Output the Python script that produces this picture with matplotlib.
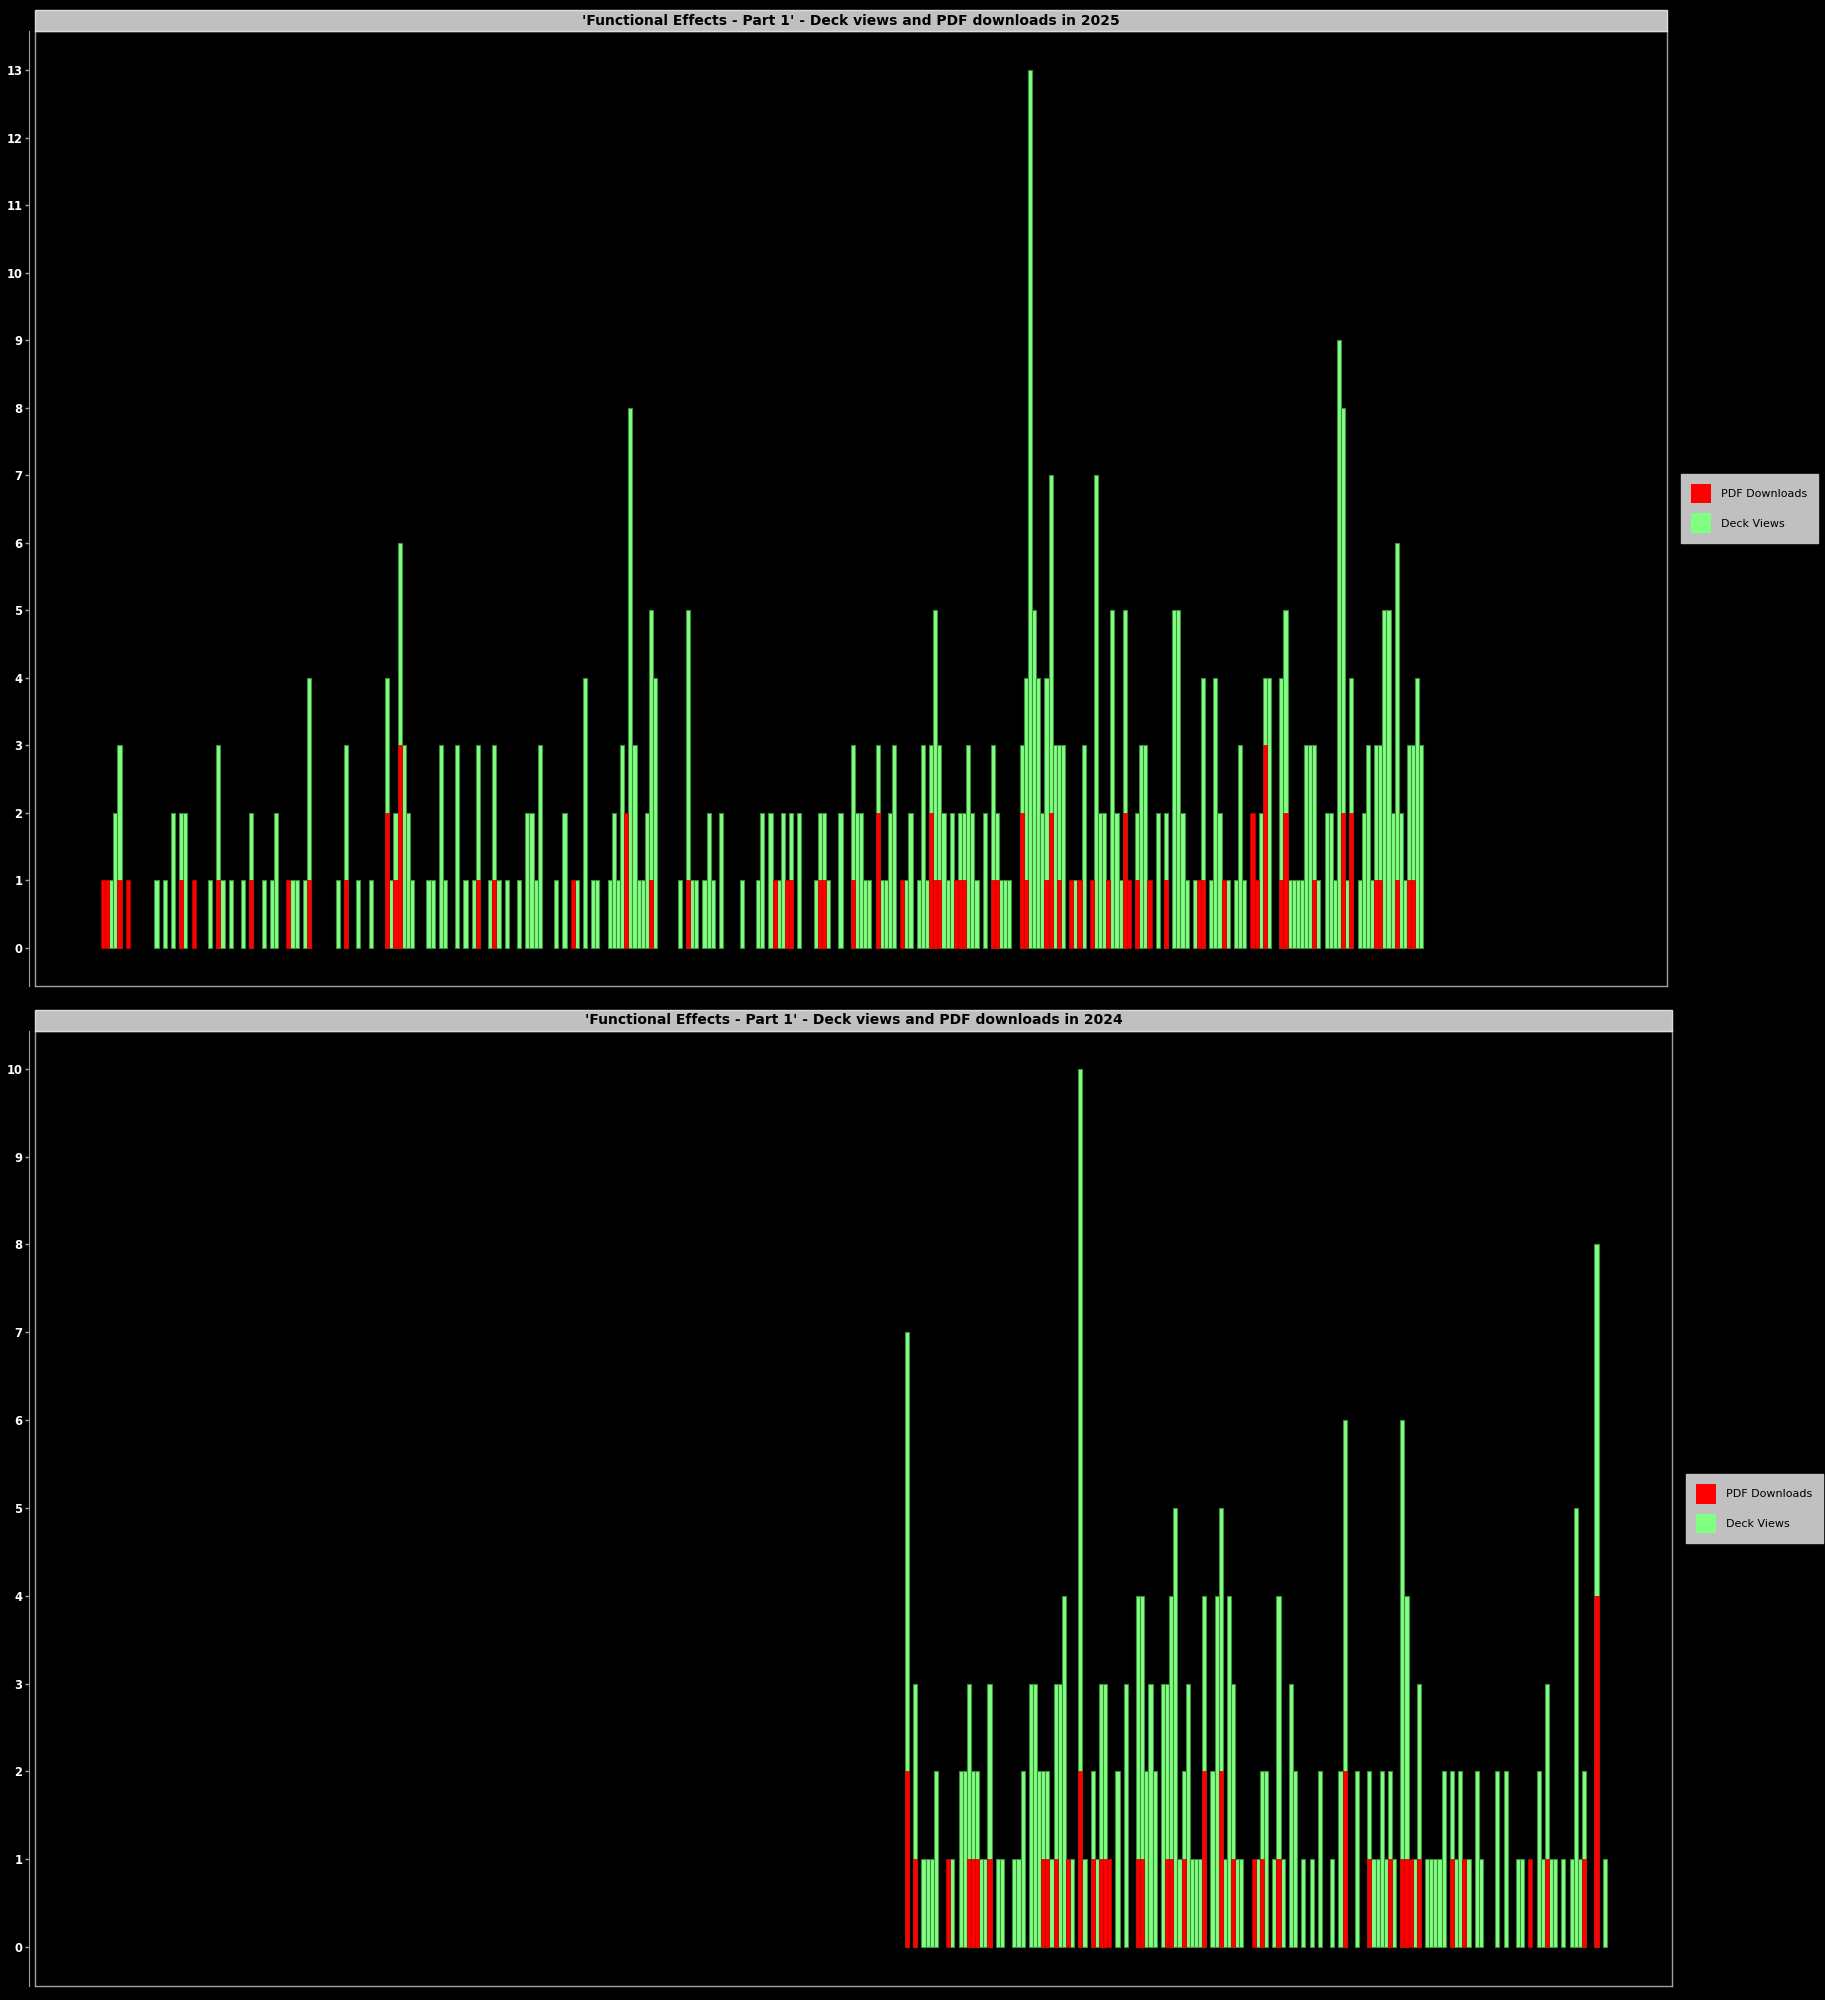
import matplotlib.pyplot as plt
from matplotlib.patches import Rectangle, Patch
from matplotlib.ticker import MultipleLocator

# ── Données : jour de l'année (0 = 1er janvier), vues du deck, téléchargements PDF ──
DAYS_2025 = [0, 1, 2, 3, 4, 6, 13, 15, 17, 19,
             20, 22, 26, 28, 29, 31, 34, 36, 39, 41,
             42, 45, 46, 47, 49, 50, 57, 59, 62, 65,
             69, 70, 71, 72, 73, 74, 75, 79, 80, 82,
             83, 86, 88, 90, 91, 94, 95, 96, 98, 101,
             103, 104, 105, 106, 110, 112, 114, 115, 117, 119,
             120, 123, 124, 125, 126, 127, 128, 129, 130, 131,
             132, 133, 134, 140, 142, 143, 144, 146, 147, 148,
             150, 155, 159, 160, 162, 163, 164, 165, 166, 167,
             169, 173, 174, 175, 176, 179, 182, 183, 184, 185,
             186, 188, 189, 190, 191, 192, 194, 195, 196, 198,
             199, 200, 201, 202, 203, 204, 205, 206, 207, 208,
             209, 210, 211, 212, 214, 216, 217, 218, 219, 220,
             223, 224, 225, 226, 227, 228, 229, 230, 231, 232,
             233, 235, 236, 237, 238, 240, 241, 242, 243, 244,
             245, 246, 247, 248, 249, 251, 252, 253, 254, 256,
             258, 260, 261, 262, 263, 265, 266, 267, 269, 270,
             271, 272, 273, 275, 276, 277, 279, 280, 281, 282,
             283, 286, 287, 288, 289, 290, 291, 292, 293, 294,
             295, 297, 298, 299, 300, 301, 302, 303, 305, 306,
             307, 308, 309, 310, 311, 312, 313, 314, 315, 316,
             317, 318, 319, 320]
VIEWS_2025 = [0, 0, 1, 2, 3, 0, 1, 1, 2, 2,
              2, 0, 1, 3, 1, 1, 1, 2, 1, 1,
              2, 0, 1, 1, 1, 4, 1, 3, 1, 1,
              4, 1, 2, 6, 3, 2, 1, 1, 1, 3,
              1, 3, 1, 1, 3, 1, 3, 1, 1, 1,
              2, 2, 1, 3, 1, 2, 0, 1, 4, 1,
              1, 1, 2, 1, 3, 0, 8, 3, 1, 1,
              2, 5, 4, 1, 5, 1, 1, 1, 2, 1,
              2, 1, 1, 2, 2, 0, 1, 2, 0, 2,
              2, 1, 2, 2, 1, 2, 3, 2, 2, 1,
              1, 3, 1, 1, 2, 3, 0, 1, 2, 1,
              3, 1, 3, 5, 3, 2, 1, 2, 0, 2,
              2, 3, 2, 1, 2, 3, 2, 1, 1, 1,
              3, 4, 13, 5, 4, 2, 4, 7, 3, 3,
              3, 0, 1, 0, 3, 0, 7, 2, 2, 0,
              5, 2, 1, 5, 0, 2, 3, 3, 0, 2,
              2, 5, 5, 2, 1, 1, 0, 4, 1, 4,
              2, 0, 1, 1, 3, 1, 0, 0, 2, 4,
              4, 4, 5, 1, 1, 1, 1, 3, 3, 3,
              1, 2, 2, 1, 9, 8, 1, 4, 1, 2,
              3, 1, 3, 3, 5, 5, 2, 6, 2, 1,
              3, 3, 4, 3]
DOWNLOADS_2025 = [1, 1, 0, 0, 1, 1, 0, 0, 0, 1,
                  0, 1, 0, 1, 0, 0, 0, 1, 0, 0,
                  0, 1, 0, 0, 0, 1, 0, 1, 0, 0,
                  2, 0, 1, 3, 0, 0, 0, 0, 0, 0,
                  0, 0, 0, 0, 1, 0, 1, 0, 0, 0,
                  0, 0, 0, 0, 0, 0, 1, 0, 0, 0,
                  0, 0, 0, 0, 0, 2, 0, 0, 0, 0,
                  0, 1, 0, 0, 1, 0, 0, 0, 0, 0,
                  0, 0, 0, 0, 0, 1, 0, 0, 1, 1,
                  0, 0, 1, 1, 0, 0, 1, 0, 0, 0,
                  0, 2, 0, 0, 0, 0, 1, 0, 0, 0,
                  0, 0, 2, 1, 1, 0, 0, 0, 1, 1,
                  1, 0, 0, 0, 0, 1, 1, 0, 0, 0,
                  2, 1, 0, 0, 0, 0, 1, 2, 0, 1,
                  0, 1, 0, 1, 0, 1, 0, 0, 0, 1,
                  0, 0, 0, 2, 1, 1, 0, 0, 1, 0,
                  1, 0, 0, 0, 0, 0, 1, 1, 0, 0,
                  0, 1, 0, 0, 0, 0, 2, 1, 0, 3,
                  0, 1, 2, 0, 0, 0, 0, 0, 0, 1,
                  0, 0, 0, 0, 0, 2, 0, 2, 0, 0,
                  0, 0, 1, 1, 0, 0, 0, 1, 0, 0,
                  1, 1, 0, 0]

DAYS_2024 = [196, 198, 200, 201, 202, 203, 206, 207, 209, 210,
             211, 212, 213, 214, 215, 216, 218, 219, 222, 223,
             224, 226, 227, 228, 229, 230, 231, 232, 233, 234,
             235, 236, 238, 239, 241, 242, 243, 244, 245, 247,
             249, 252, 253, 254, 255, 256, 258, 259, 260, 261,
             262, 263, 264, 265, 266, 267, 268, 270, 271, 272,
             273, 274, 275, 276, 277, 280, 281, 282, 283, 285,
             286, 287, 289, 290, 292, 294, 296, 299, 301, 302,
             305, 308, 309, 310, 311, 312, 313, 314, 316, 317,
             318, 319, 320, 322, 323, 324, 325, 326, 328, 329,
             330, 331, 332, 334, 335, 339, 341, 344, 345, 347,
             349, 350, 351, 352, 353, 355, 357, 358, 359, 360,
             363, 365]
VIEWS_2024 = [7, 3, 1, 1, 1, 2, 0, 1, 2, 2,
              3, 2, 2, 1, 1, 3, 1, 1, 1, 1,
              2, 3, 3, 2, 2, 2, 1, 3, 3, 4,
              0, 1, 10, 1, 2, 1, 3, 3, 0, 2,
              3, 4, 4, 2, 3, 2, 3, 3, 4, 5,
              1, 2, 3, 1, 1, 1, 4, 2, 4, 5,
              1, 4, 3, 1, 1, 0, 1, 2, 2, 1,
              4, 1, 3, 2, 1, 1, 2, 1, 2, 6,
              2, 2, 1, 1, 2, 1, 2, 1, 6, 4,
              0, 1, 3, 1, 1, 1, 1, 2, 2, 1,
              2, 0, 1, 2, 1, 2, 2, 1, 1, 0,
              2, 1, 3, 1, 1, 1, 1, 5, 1, 2,
              8, 1]
DOWNLOADS_2024 = [2, 1, 0, 0, 0, 0, 1, 0, 0, 0,
                  1, 1, 1, 0, 0, 1, 0, 0, 0, 0,
                  0, 0, 0, 0, 1, 1, 0, 1, 0, 0,
                  1, 0, 2, 0, 1, 0, 1, 1, 1, 0,
                  0, 1, 1, 0, 0, 0, 0, 1, 1, 0,
                  0, 1, 0, 0, 0, 0, 2, 0, 0, 2,
                  0, 0, 1, 0, 0, 1, 0, 1, 0, 0,
                  1, 0, 0, 0, 0, 0, 0, 0, 0, 2,
                  0, 1, 0, 0, 0, 0, 1, 0, 1, 1,
                  1, 0, 1, 0, 0, 0, 0, 0, 1, 0,
                  0, 1, 0, 0, 0, 0, 0, 0, 0, 1,
                  0, 0, 1, 0, 0, 0, 0, 0, 0, 1,
                  4, 0]

assert len(DAYS_2025) == len(VIEWS_2025) == len(DOWNLOADS_2025)
assert len(DAYS_2024) == len(VIEWS_2024) == len(DOWNLOADS_2024)

TITLE = "'Functional Effects - Part 1' - Deck views and PDF downloads in {}"

# ── Style ─────────────────────────────────────────────────────
GREEN      = '#80ff80'
GREEN_EDGE = '#3f8f3f'
RED        = '#ff0000'
RED_EDGE   = '#c80000'
BAR_GRAY   = '#c0c0c0'
LINE_GRAY  = '#a0a0a0'

W, H = 1825, 2000
fig = plt.figure(figsize=(W / 100, H / 100), dpi=100, facecolor='black')


def px_axes(left, top, width, height):
    return fig.add_axes([left / W, 1 - (top + height) / H, width / W, height / H])


def draw_panel(ax, days, views, downloads, year, xlim, ylim, ymax_tick):
    ax.set_facecolor('black')

    # barres vertes (vues) puis rouges (téléchargements) par-dessus
    gd = [d for d, v in zip(days, views) if v > 0]
    gv = [v for v in views if v > 0]
    rd = [d for d, v in zip(days, downloads) if v > 0]
    rv = [v for v in downloads if v > 0]
    ax.bar(gd, gv, width=1.0, color=GREEN, edgecolor=GREEN_EDGE, linewidth=0.8)
    ax.bar(rd, rv, width=1.0, color=RED, edgecolor=RED_EDGE, linewidth=0.5)

    ax.set_xlim(*xlim)
    ax.set_ylim(*ylim)
    ax.set_xticks([])
    ax.yaxis.set_major_locator(MultipleLocator(1))
    ax.set_yticks(range(0, ymax_tick + 1))

    for s in ['top', 'right', 'bottom']:
        ax.spines[s].set_color(LINE_GRAY)
        ax.spines[s].set_linewidth(1)
    ax.spines['left'].set_position(('outward', 4))
    ax.spines['left'].set_color(LINE_GRAY)
    ax.plot([0, 0], [0, 1], transform=ax.transAxes, color=LINE_GRAY,
            lw=1, clip_on=False)

    ax.tick_params(axis='y', colors=LINE_GRAY, labelcolor='white',
                   length=3, width=1, pad=2, labelsize=8.3)
    for lbl in ax.get_yticklabels():
        lbl.set_fontweight('bold')

    # bandeau de titre gris
    h = 21 / (ax.get_position().height * H)
    ax.add_patch(Rectangle((0, 1), 1, h, transform=ax.transAxes,
                           facecolor=BAR_GRAY, edgecolor='#dcdcdc', lw=1,
                           clip_on=False, zorder=5))
    ax.text(0.5, 1 + h / 2, TITLE.format(year), transform=ax.transAxes,
            ha='center', va='center', fontsize=10, fontweight='bold',
            color='black', zorder=6)

    handles = [Patch(facecolor=RED, label='PDF Downloads'),
               Patch(facecolor=GREEN, label='Deck Views')]
    off = 14 / (ax.get_position().width * W)
    leg = ax.legend(handles=handles, loc='center left', bbox_to_anchor=(1 + off, 0.5),
                    fontsize=8, frameon=True, fancybox=False, framealpha=1,
                    facecolor=BAR_GRAY, edgecolor=BAR_GRAY,
                    handlelength=1.8, handleheight=2.3, labelspacing=0.9,
                    borderpad=0.9, handletextpad=0.93, borderaxespad=0)
    for t in leg.get_texts():
        t.set_color('black')


ax_top = px_axes(35, 31, 1632, 955)
draw_panel(ax_top, DAYS_2025, VIEWS_2025, DOWNLOADS_2025, 2025,
           xlim=(-16.5, 379.6), ylim=(-0.563, 13.58), ymax_tick=13)

ax_bot = px_axes(35, 1031, 1637, 955)
draw_panel(ax_bot, DAYS_2024, VIEWS_2024, DOWNLOADS_2024, 2024,
           xlim=(-15.2, 381.3), ylim=(-0.444, 10.43), ymax_tick=10)

fig.savefig('out.png', dpi=100, facecolor='black')
